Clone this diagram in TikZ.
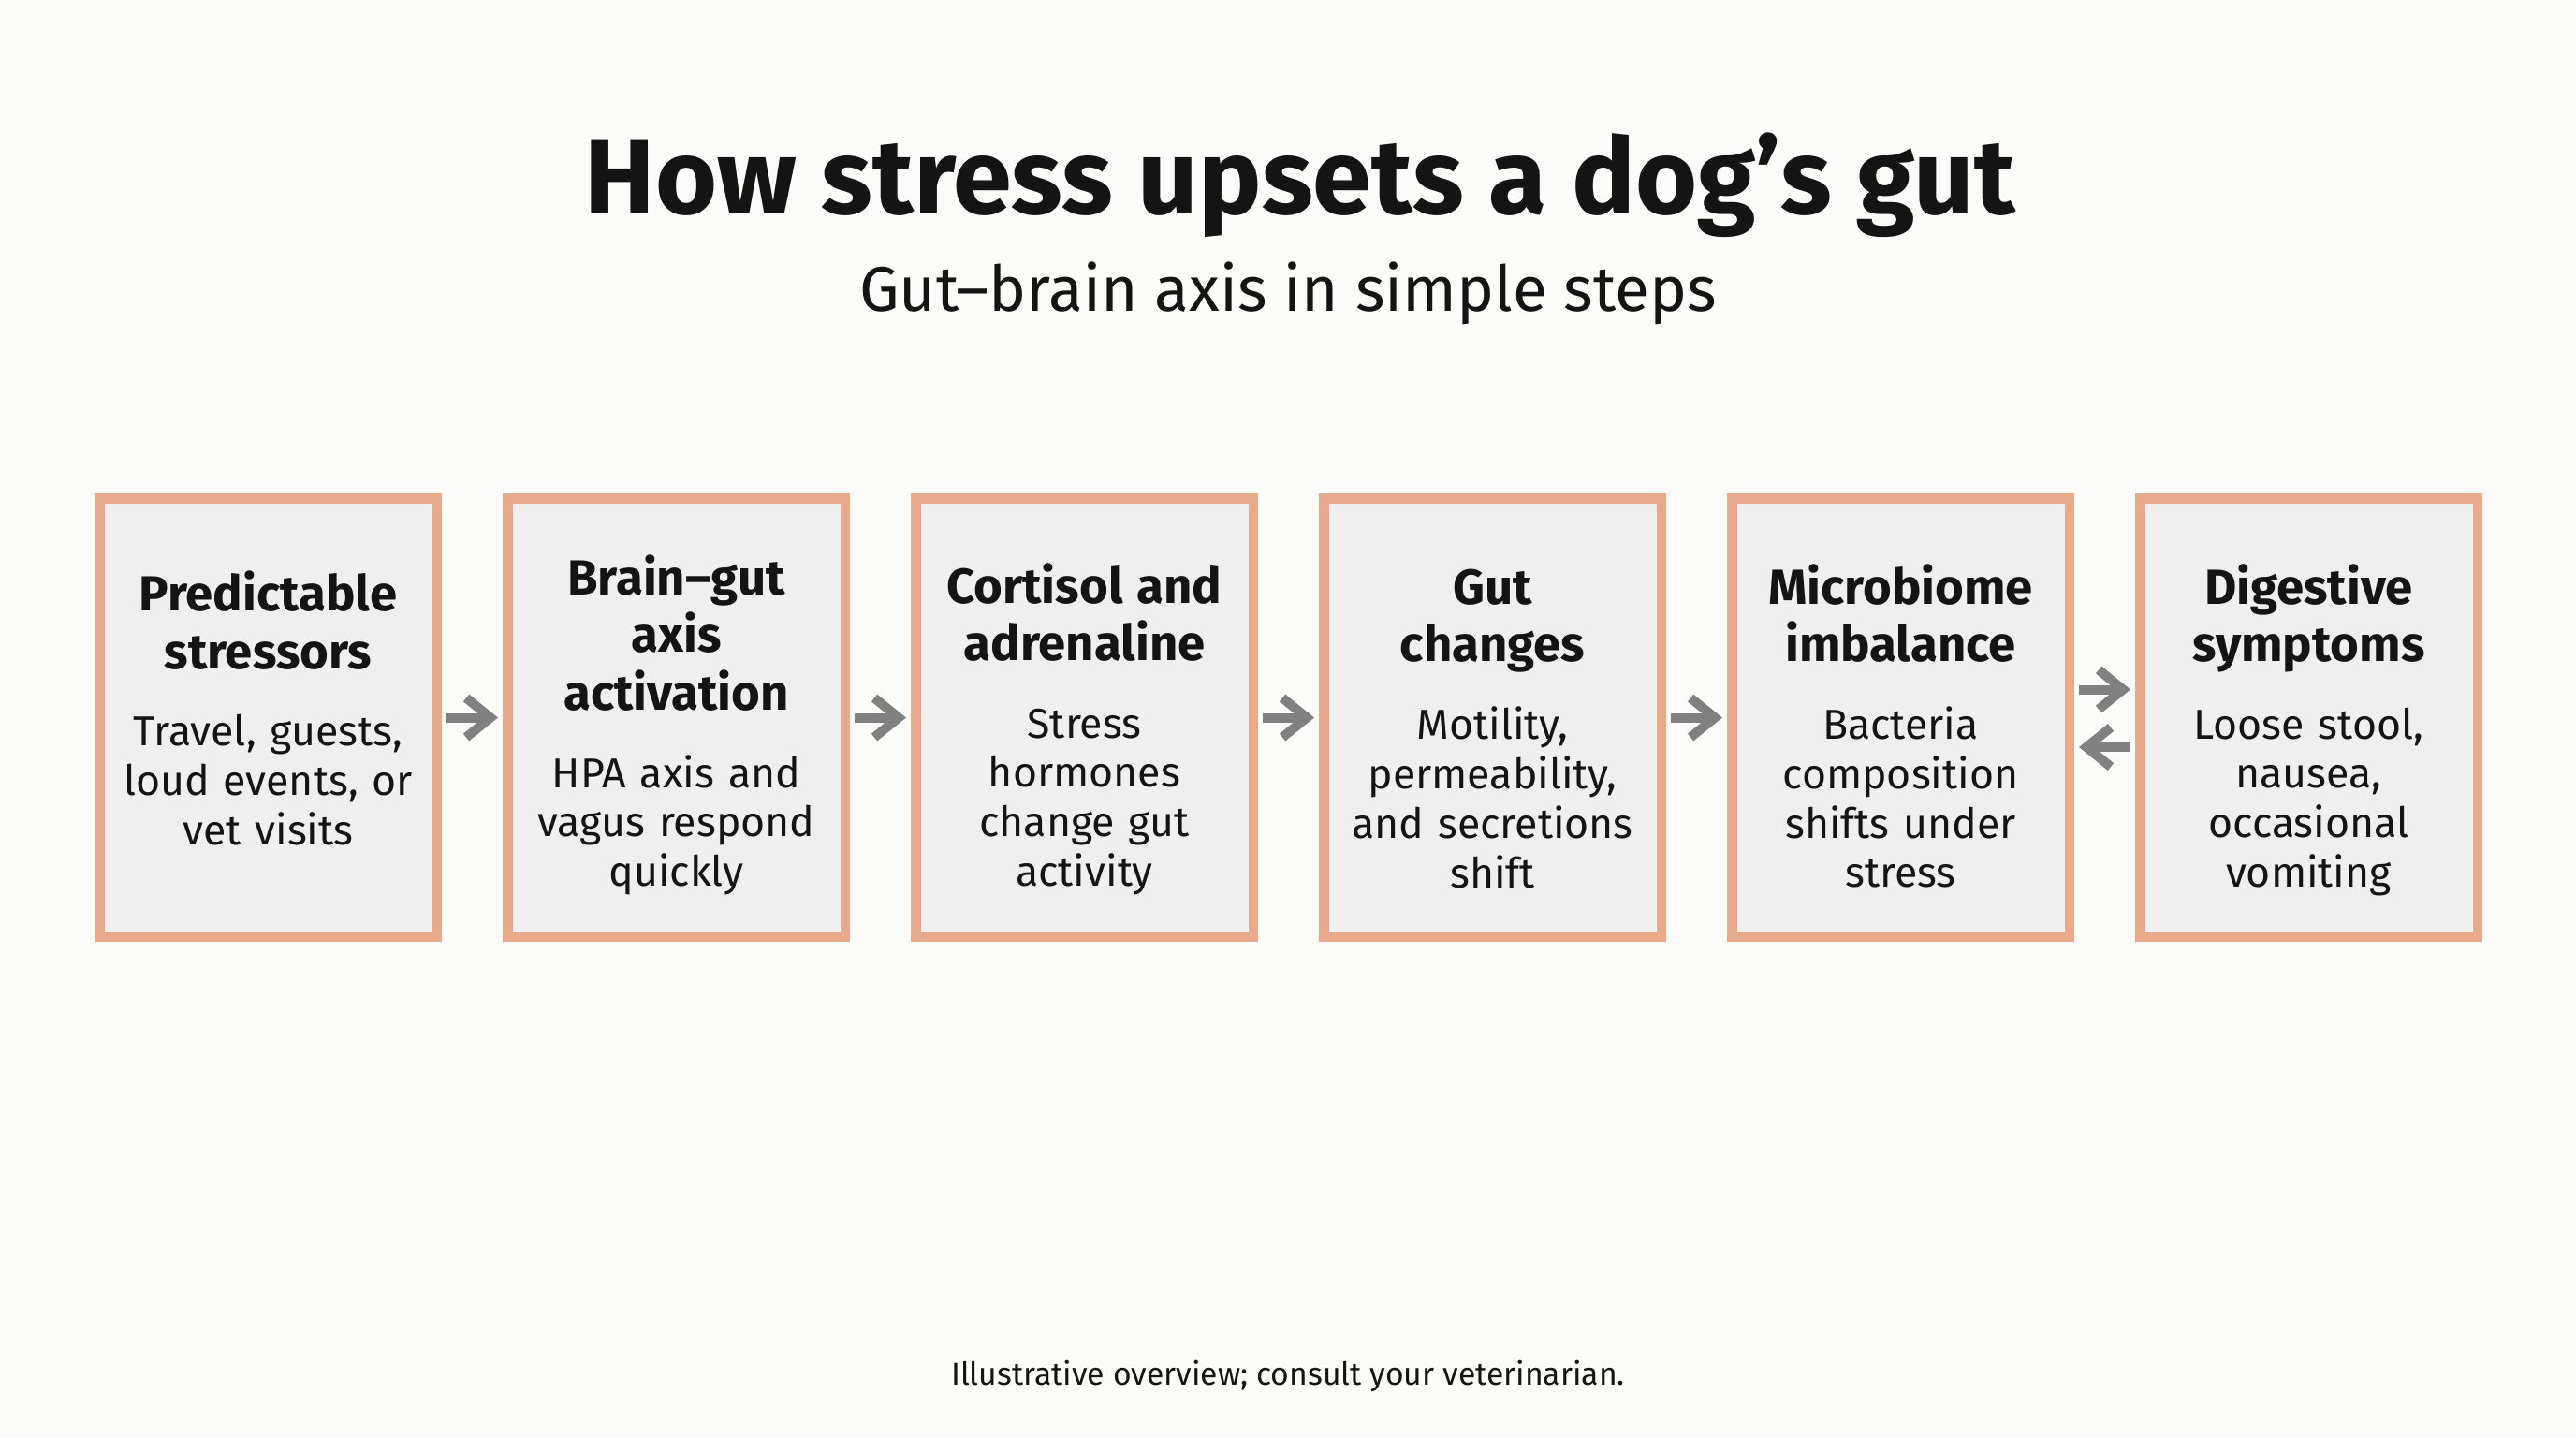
\documentclass[tikz,border=0pt]{standalone}
\usepackage{fontspec}
\setmainfont{Fira Sans}
\usepackage{tikz}
\usetikzlibrary{arrows.meta,positioning}
\definecolor{pagebg}{RGB}{251,251,249}
\definecolor{boxfill}{RGB}{239,239,239}
\definecolor{boxedge}{RGB}{233,170,140}
\definecolor{flowgray}{RGB}{128,128,128}
\definecolor{inkblack}{RGB}{20,20,20}
\newcommand{\hd}{\fontsize{15}{17.4}\selectfont\bfseries}
\newcommand{\bd}{\fontsize{12.7}{15}\selectfont\mdseries}

\begin{document}
\begin{tikzpicture}[>={Straight Barb[length=2.6mm,width=4.2mm]},
  stepbox/.style={draw=boxedge, fill=boxfill, line width=0.105cm,
    minimum width=3.605cm, minimum height=4.685cm},
  steptext/.style={align=center, text width=3.45cm, font=\bd,
    text=inkblack, inner sep=0pt},
  flow/.style={->, line width=1mm, flowgray, shorten >=0.5mm, shorten <=0.5mm}]
% Page
\fill[pagebg] (0,0) rectangle (27.52,-15.36);
\useasboundingbox (0,0) rectangle (27.52,-15.36);
% Title and subtitle
\node[font=\fontsize{32.2}{38}\selectfont\bfseries, text=inkblack, anchor=base]
  (title) at (13.89,-2.28) {How stress upsets a dog’s gut};
\node[font=\fontsize{19.2}{24}\selectfont, text=inkblack, anchor=base]
  (subtitle) at (13.76,-3.32) {Gut–brain axis in simple steps};
% Six step boxes
\node[stepbox] (s1) at (2.865,  -7.665) {};
\node[stepbox] (s2) at (7.225,  -7.665) {};
\node[stepbox] (s3) at (11.585, -7.665) {};
\node[stepbox] (s4) at (15.945, -7.665) {};
\node[stepbox] (s5) at (20.305, -7.665) {};
\node[stepbox] (s6) at (24.665, -7.665) {};
% Box texts
\node[steptext] (t1) at ([yshift=1mm]s1.center)
  {\hd Predictable\\stressors\\[8.6pt]\bd Travel, guests,\\loud events, or\\vet visits};
\node[steptext] (t2) at ([yshift=-0.8mm]s2.center)
  {\hd Brain–gut\\axis\\activation\\[8.6pt]\bd HPA axis and\\vagus respond\\quickly};
\node[steptext] (t3) at ([yshift=-1.2mm]s3.center)
  {\hd Cortisol and\\adrenaline\\[8.6pt]\bd Stress\\hormones\\change gut\\activity};
\node[steptext] (t4) at ([yshift=-1.2mm]s4.center)
  {\hd Gut\\changes\\[8.6pt]\bd Motility,\\permeability,\\and secretions\\shift};
\node[steptext] (t5) at ([yshift=-0.9mm]s5.center)
  {\hd Microbiome\\imbalance\\[8.6pt]\bd Bacteria\\composition\\shifts under\\stress};
\node[steptext] (t6) at ([yshift=-1.3mm]s6.center)
  {\hd Digestive\\symptoms\\[8.6pt]\bd Loose stool,\\nausea,\\occasional\\vomiting};
% Arrows between steps
\draw[flow] (s1.east) -- (s2.west);
\draw[flow] (s2.east) -- (s3.west);
\draw[flow] (s3.east) -- (s4.west);
\draw[flow] (s4.east) -- (s5.west);
% Two-way link at the end
\draw[flow] ([yshift=3mm]s5.east) -- ([yshift=3mm]s6.west);
\draw[flow] ([yshift=-3.15mm]s6.west) -- ([yshift=-3.15mm]s5.east);
% Footnote
\node[font=\fontsize{9.6}{12}\selectfont, text=inkblack, anchor=base]
  (note) at (13.76,-14.79) {Illustrative overview; consult your veterinarian.};
\end{tikzpicture}
\end{document}
